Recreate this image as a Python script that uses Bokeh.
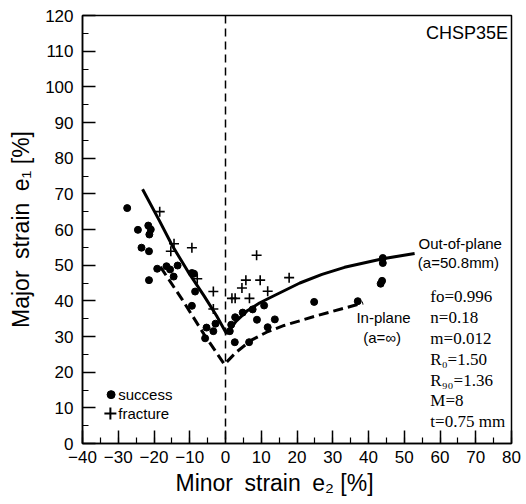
from bokeh.plotting import figure
from bokeh.models import Range1d, SingleIntervalTicker, Span, Label, Title
from bokeh.embed import file_html
from bokeh.resources import INLINE

# ---------------- data ----------------
success_e2 = [-27.5, -24.5, -21.6, -20.9, -21.3, -23.5, -21.4, -21.4, -19.1, -16.5,
              -15.5, -14.5, -13.4, -9.4, -8.8, -8.5, -9.4, -5.3, -3.4, -2.8,
              -5.7, 1.2, 1.6, 2.7, 4.8, 7.6, 10.8, 8.8, 13.8, 11.8,
              2.6, 6.6, 24.8, 37.0, 44.0, 44.0, 43.8, 43.4]
success_e1 = [66.0, 59.9, 61.1, 60.0, 58.6, 54.9, 53.9, 45.8, 49.0, 49.7,
              48.8, 46.8, 49.9, 47.8, 47.6, 42.6, 38.6, 32.5, 31.5, 33.6,
              29.5, 31.5, 33.3, 35.4, 36.7, 37.6, 38.7, 34.7, 34.8, 32.6,
              28.4, 28.4, 39.7, 39.9, 52.0, 50.6, 45.6, 44.8]

fracture_e2 = [-18.4, -14.4, -15.3, -9.4, -7.9, -3.4, -3.4, 1.8, 2.7, 6.7,
               4.6, 5.7, 9.7, 8.7, 11.8, 17.8]
fracture_e1 = [65.0, 56.0, 53.9, 54.9, 46.2, 42.6, 37.7, 40.7, 40.7, 40.7,
               43.6, 45.8, 45.8, 52.8, 42.7, 46.5]

# FLC, out-of-plane (a=50.8mm), solid
oop_e2 = [-23.2, -18.5, -14.9, -10.5, -6.0, -2.5, 0.3, 3.0, 6.2, 9.5,
          12.7, 20.8, 27.0, 33.3, 44.0, 52.9]
oop_e1 = [71.3, 62.5, 55.5, 48.2, 41.4, 35.8, 30.8, 34.3, 37.3, 39.4,
          41.0, 45.0, 47.4, 49.4, 51.8, 53.3]

# FLC, in-plane (a=inf), dashed
inp_e2 = [-18.2, -12.0, -6.0, -0.3, 3.0, 7.1, 11.5, 16.4, 25.8, 38.5]
inp_e1 = [49.5, 40.2, 30.6, 22.2, 25.6, 28.9, 31.2, 33.1, 35.9, 39.4]

x_tick_values = list(range(-40, 81, 10))
y_tick_values = list(range(0, 121, 10))

params = ["fo=0.996", "n=0.18", "m=0.012", "R\u2080=1.50", "R\u2089\u2080=1.36",
          "M=8", "t=0.75 mm"]

SANS = "Liberation Sans"
SERIF = "Liberation Serif"
SP = "\u2002"

p = figure(width=526, height=504, output_backend="svg", toolbar_location=None,
           x_range=Range1d(-40, 80), y_range=Range1d(0, 120),
           min_border_left=82, min_border_right=15, min_border_top=15,
           min_border_bottom=61, background_fill_color="white",
           border_fill_color="white")

p.xgrid.visible = False
p.ygrid.visible = False
p.outline_line_color = "black"
p.outline_line_width = 1.5
p.outline_line_alpha = 1.0

for ax in (p.xaxis[0], p.yaxis[0]):
    ax.ticker = SingleIntervalTicker(interval=10, num_minor_ticks=2)
    ax.major_tick_in = 13
    ax.major_tick_out = 0
    ax.minor_tick_in = 6
    ax.minor_tick_out = 0
    ax.axis_line_width = 1.5
    ax.major_tick_line_width = 1.5
    ax.minor_tick_line_width = 1.2
    ax.axis_line_color = "black"
    ax.major_tick_line_color = "black"
    ax.minor_tick_line_color = "black"
    ax.major_label_text_font = SANS
    ax.major_label_text_font_size = "17px"
    ax.major_label_text_color = "black"

p.xaxis.major_label_standoff = 7
p.yaxis.major_label_standoff = 9

p.yaxis.axis_label = "Major" + SP + "strain" + SP + "e\u2081 [%]"
p.yaxis.axis_label_text_font = SANS
p.yaxis.axis_label_text_font_size = "23px"
p.yaxis.axis_label_text_font_style = "normal"
p.yaxis.axis_label_text_color = "black"
p.yaxis.axis_label_standoff = 8

# x axis title (offset to the left, as in the reference)
p.add_layout(Title(text="Minor" + SP + "strain" + SP + "e\u2082 [%]", align="left",
                   offset=93, text_font=SANS, text_font_size="23px",
                   text_font_style="normal", text_color="black",
                   standoff=4), "below")

# vertical line at e2 = 0
p.add_layout(Span(location=0, dimension="height", line_color="black",
                  line_width=1.5, line_dash="8 5"))

# FLC curves
p.line(oop_e2, oop_e1, line_color="black", line_width=3)
p.line(inp_e2, inp_e1, line_color="black", line_width=3, line_dash="10 5")

# data points
p.scatter(success_e2, success_e1, marker="circle", size=7, color="black")
p.scatter(fracture_e2, fracture_e1, marker="cross", size=10,
          line_color="black", line_width=1.6)

# legend (hand-made, lower left)
p.scatter([-32.0], [13.7], marker="circle", size=8, color="black")
p.scatter([-32.2], [8.4], marker="cross", size=12, line_color="black", line_width=2)
p.add_layout(Label(x=-30.0, y=13.7, text="success", text_font=SANS,
                   text_font_size="15px", text_baseline="middle", text_color="black"))
p.add_layout(Label(x=-30.0, y=8.4, text="fracture", text_font=SANS,
                   text_font_size="15px", text_baseline="middle", text_color="black"))

# annotations
p.add_layout(Label(x=79.0, y=115.2, text="CHSP35E", text_font=SANS,
                   text_font_size="18px", text_align="right",
                   text_baseline="middle", text_color="black"))
p.add_layout(Label(x=54.0, y=56.1, text="Out-of-plane", text_font=SANS,
                   text_font_size="15px", text_baseline="middle", text_color="black"))
p.add_layout(Label(x=53.8, y=50.7, text="(a=50.8mm)", text_font=SANS,
                   text_font_size="15px", text_baseline="middle", text_color="black"))
p.add_layout(Label(x=44.2, y=35.3, text="In-plane", text_font=SANS,
                   text_font_size="15px", text_align="center",
                   text_baseline="middle", text_color="black"))
p.add_layout(Label(x=43.8, y=29.7, text="(a=\u221e)", text_font=SANS,
                   text_font_size="15px", text_align="center",
                   text_baseline="middle", text_color="black"))

for i, t in enumerate(params):
    p.add_layout(Label(x=57.3, y=41.2 - i * 5.85, text=t, text_font=SERIF,
                       text_font_size="17px", text_baseline="middle",
                       text_color="black"))

open("out.html", "w").write(file_html(p, INLINE))
